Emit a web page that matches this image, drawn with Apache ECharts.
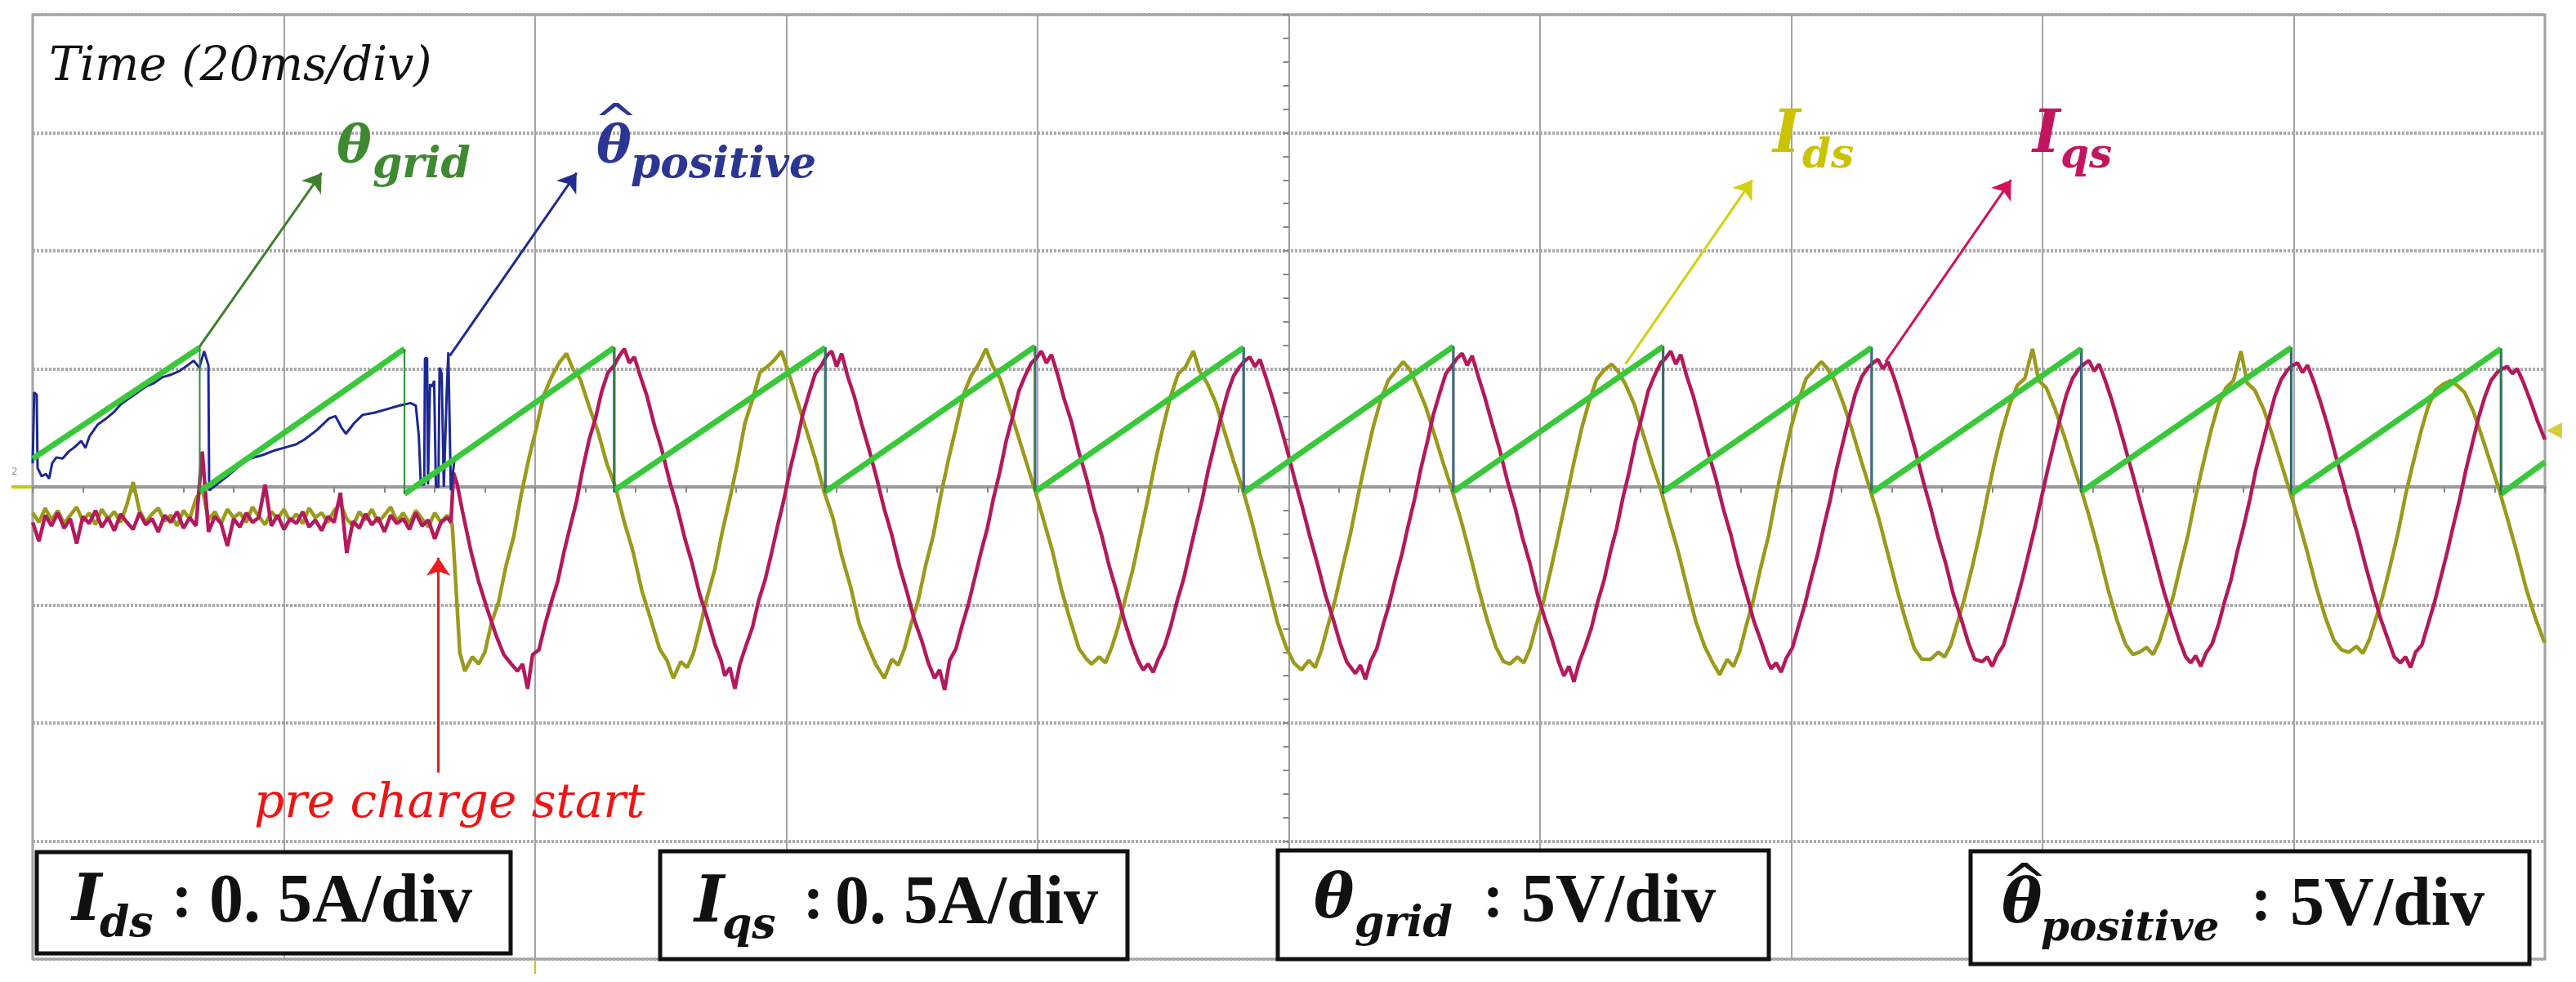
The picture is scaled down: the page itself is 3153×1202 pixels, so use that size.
<!DOCTYPE html>
<html><head><meta charset="utf-8">
<script src="https://cdn.jsdelivr.net/npm/echarts@6/dist/echarts.min.js"></script>
<style>html,body{margin:0;padding:0;background:#fff}#c{width:3153px;height:1202px}</style>
</head><body><div id="c"></div>
<script>
// ---- time base (ms) of the pre-charge samples ----
const preT = [0,0.5,1,1.5,2,2.5,3,3.5,4,4.5,5,5.5,6,6.5,7,7.5,8,8.5,9,9.5,10,10.5,11,11.5,12,12.5,13,13.5,14,14.5,15,15.5,16,16.5,17,17.5,18,18.5,19,19.5,20,20.5,21,21.5,22,22.5,23,23.5,24,24.5,25,25.5,26,26.5,27,27.5,28,28.5,29,29.5,30,30.5,31,31.5,32,32.5,33];
// Ids / Iqs (divisions) before pre-charge
const idsPreV = [-0.22,-0.30,-0.18,-0.28,-0.20,-0.31,-0.24,-0.17,-0.29,-0.22,-0.32,-0.19,-0.27,-0.21,-0.30,-0.15,0.04,-0.20,-0.30,-0.23,-0.18,-0.29,-0.24,-0.33,-0.20,-0.27,-0.10,-0.01,-0.28,-0.21,-0.31,-0.19,-0.26,-0.22,-0.30,-0.17,-0.25,-0.32,-0.21,-0.27,-0.19,-0.29,-0.23,-0.31,-0.18,-0.26,-0.22,-0.30,-0.20,-0.14,-0.27,-0.33,-0.21,-0.28,-0.19,-0.30,-0.24,-0.17,-0.29,-0.22,-0.31,-0.20,-0.27,-0.34,-0.22,-0.30,-0.24];
const iqsPreV = [-0.30,-0.46,-0.24,-0.33,-0.22,-0.35,-0.27,-0.48,-0.25,-0.31,-0.20,-0.34,-0.26,-0.37,-0.23,-0.30,-0.36,-0.22,-0.32,-0.27,-0.38,-0.24,-0.30,-0.21,-0.35,-0.26,-0.33,0.30,-0.38,-0.25,-0.31,-0.50,-0.27,-0.34,-0.22,-0.30,-0.26,0.02,-0.33,-0.24,-0.36,-0.27,-0.31,-0.21,-0.34,-0.28,-0.37,-0.25,-0.30,-0.05,-0.56,-0.29,-0.35,-0.23,-0.32,-0.26,-0.38,-0.24,-0.31,-0.27,-0.36,-0.22,-0.33,-0.28,-0.44,-0.30,-0.26];
// Ids after pre-charge start [ms, div]
const idsPost = [[33.4,-0.32],[33.7,-0.85],[34.0,-1.40],
[34.4,-1.56],[35.0,-1.44],[35.5,-1.50],[36.0,-1.40],[36.5,-1.16],[37.1,-0.97],[37.7,-0.66],[38.3,-0.42],[38.9,-0.06],[39.5,0.24],[40.1,0.50],[40.7,0.78],[41.3,0.93],[41.9,1.05],[42.5,1.13],[43.0,1.00],[43.6,0.91],[44.3,0.68],[45.0,0.47],[45.7,0.20],[46.4,0.00],[47.1,-0.30],[47.8,-0.55],[48.5,-0.88],[49.2,-1.12],[49.9,-1.37],[50.5,-1.47],
[51.0,-1.62],[51.6,-1.48],[52.1,-1.53],[52.6,-1.41],[53.1,-1.20],[53.7,-0.93],[54.3,-0.70],[54.9,-0.38],[55.5,-0.10],[56.1,0.20],[56.7,0.54],[57.3,0.74],[57.9,0.97],[58.5,1.02],[59.1,1.08],[59.6,1.15],[60.2,0.96],[60.9,0.72],[61.6,0.48],[62.3,0.24],[63.0,-0.04],[63.7,-0.26],[64.4,-0.58],[65.1,-0.84],[65.8,-1.16],[66.5,-1.35],[67.1,-1.50],
[67.8,-1.62],[68.4,-1.46],[68.9,-1.51],[69.4,-1.37],[69.9,-1.17],[70.5,-0.96],[71.1,-0.66],[71.7,-0.41],[72.3,-0.07],[72.9,0.23],[73.5,0.50],[74.1,0.78],[74.7,0.94],[75.3,1.04],[75.9,1.17],[76.4,1.03],[77.0,0.92],[77.7,0.69],[78.4,0.45],[79.1,0.21],[79.8,-0.03],[80.5,-0.29],[81.2,-0.55],[81.9,-0.87],[82.6,-1.13],[83.3,-1.37],[83.9,-1.46],
[84.3,-1.50],[84.9,-1.44],[85.4,-1.49],[85.9,-1.36],[86.4,-1.19],[87.0,-0.94],[87.6,-0.69],[88.2,-0.39],[88.8,-0.09],[89.4,0.23],[90.0,0.51],[90.6,0.77],[91.2,0.96],[91.8,1.02],[92.4,1.15],[92.9,0.98],[93.5,0.88],[94.2,0.71],[94.9,0.46],[95.6,0.22],[96.3,-0.01],[97.0,-0.27],[97.7,-0.57],[98.4,-0.85],[99.1,-1.15],[99.8,-1.36],[100.4,-1.49],
[101.0,-1.55],[101.6,-1.47],[102.1,-1.53],[102.6,-1.38],[103.1,-1.18],[103.7,-0.95],[104.3,-0.67],[104.9,-0.40],[105.5,-0.08],[106.1,0.22],[106.7,0.50],[107.3,0.73],[107.9,0.90],[108.5,0.98],[109.1,1.06],[109.6,1.00],[110.2,0.86],[110.9,0.68],[111.6,0.44],[112.3,0.20],[113.0,-0.03],[113.7,-0.28],[114.4,-0.56],[115.1,-0.86],[115.8,-1.13],[116.5,-1.36],[117.1,-1.48],
[117.6,-1.50],[118.2,-1.44],[118.7,-1.49],[119.2,-1.37],[119.7,-1.17],[120.3,-0.96],[120.9,-0.68],[121.5,-0.39],[122.1,-0.09],[122.7,0.21],[123.3,0.49],[123.9,0.72],[124.5,0.91],[125.1,0.99],[125.7,1.04],[126.2,0.98],[126.8,0.87],[127.5,0.70],[128.2,0.45],[128.9,0.21],[129.6,-0.02],[130.3,-0.29],[131.0,-0.55],[131.7,-0.85],[132.4,-1.14],[133.1,-1.35],[133.7,-1.48],
[134.3,-1.59],[134.9,-1.46],[135.4,-1.52],[135.9,-1.39],[136.4,-1.18],[137.0,-0.95],[137.6,-0.67],[138.2,-0.41],[138.8,-0.07],[139.4,0.23],[140.0,0.51],[140.6,0.74],[141.2,0.92],[141.8,0.99],[142.4,1.06],[142.9,1.00],[143.5,0.89],[144.2,0.69],[144.9,0.46],[145.6,0.21],[146.3,-0.03],[147.0,-0.28],[147.7,-0.57],[148.4,-0.86],[149.1,-1.13],[149.8,-1.37],[150.4,-1.46],
[151.1,-1.46],[151.7,-1.40],[152.2,-1.44],[152.7,-1.34],[153.2,-1.16],[153.8,-0.94],[154.4,-0.68],[155.0,-0.40],[155.6,-0.08],[156.2,0.22],[156.8,0.48],[157.4,0.70],[158.0,0.86],[158.6,0.92],[159.2,1.17],[159.7,0.90],[160.3,0.84],[161.0,0.66],[161.7,0.44],[162.4,0.20],[163.1,-0.03],[163.8,-0.28],[164.5,-0.56],[165.2,-0.86],[165.9,-1.12],[166.6,-1.33],[167.2,-1.42],
[167.7,-1.40],[168.3,-1.36],[168.8,-1.42],[169.3,-1.31],[169.8,-1.14],[170.4,-0.93],[171.0,-0.66],[171.6,-0.40],[172.2,-0.08],[172.8,0.20],[173.4,0.47],[174.0,0.70],[174.6,0.84],[175.2,0.90],[175.8,1.15],[176.3,0.88],[176.9,0.82],[177.6,0.66],[178.3,0.44],[179.0,0.20],[179.7,-0.04],[180.4,-0.29],[181.1,-0.56],[181.8,-0.85],[182.5,-1.10],[183.2,-1.30],[183.8,-1.38],
[184.4,-1.40],[185.0,-1.35],[185.5,-1.41],[186.0,-1.30],[186.5,-1.13],[187.1,-0.92],[187.7,-0.66],[188.3,-0.39],[188.9,-0.07],[189.5,0.20],[190.1,0.46],[190.7,0.68],[191.3,0.82],[191.9,0.87],[192.5,0.90],[193.0,0.86],[193.6,0.80],[194.3,0.64],[195.0,0.42],[195.7,0.19],[196.4,-0.04],[197.1,-0.30],[197.8,-0.57],[198.5,-0.86],[199.2,-1.10],[199.9,-1.30],[200.0,-1.32]];
// Iqs after pre-charge start [ms, div]
const iqsPost = [[33.3,-0.30],[33.5,0.12],[33.8,0.02],[34.2,-0.20],[34.9,-0.55],[35.5,-0.80],[36.2,-1.04],[36.9,-1.26],[37.5,-1.42],[38.1,-1.50],
[38.6,-1.56],[39.0,-1.50],[39.4,-1.71],[39.8,-1.42],[40.3,-1.38],[40.8,-1.16],[41.3,-0.97],[41.8,-0.80],[42.3,-0.55],[42.8,-0.33],[43.3,-0.12],[43.8,0.16],[44.3,0.40],[44.8,0.58],[45.3,0.81],[45.8,0.97],[46.3,1.03],[46.7,1.11],[47.1,1.17],[47.5,1.05],[47.9,1.10],[48.4,0.93],[48.9,0.77],[49.5,0.52],[50.1,0.31],[50.7,0.05],[51.3,-0.17],[51.9,-0.43],[52.5,-0.65],[53.1,-0.91],[53.7,-1.11],[54.3,-1.33],[54.8,-1.47],
[55.1,-1.60],[55.5,-1.53],[55.9,-1.71],[56.3,-1.50],[56.8,-1.34],[57.3,-1.19],[57.8,-0.96],[58.3,-0.79],[58.8,-0.57],[59.3,-0.33],[59.8,-0.11],[60.3,0.15],[60.8,0.37],[61.3,0.61],[61.8,0.79],[62.3,0.96],[62.8,1.03],[63.2,1.11],[63.6,1.15],[64.0,1.02],[64.4,1.13],[64.9,0.93],[65.4,0.77],[66.0,0.53],[66.6,0.31],[67.2,0.07],[67.8,-0.19],[68.4,-0.41],[69.0,-0.67],[69.6,-0.89],[70.2,-1.13],[70.8,-1.31],[71.3,-1.49],
[71.8,-1.62],[72.2,-1.55],[72.6,-1.72],[73.0,-1.47],[73.5,-1.37],[74.0,-1.17],[74.5,-0.99],[75.0,-0.77],[75.5,-0.55],[76.0,-0.35],[76.5,-0.09],[77.0,0.13],[77.5,0.39],[78.0,0.59],[78.5,0.81],[79.0,0.94],[79.5,1.05],[79.9,1.09],[80.3,1.15],[80.7,1.05],[81.1,1.12],[81.6,0.95],[82.1,0.75],[82.7,0.55],[83.3,0.29],[83.9,0.07],[84.5,-0.19],[85.1,-0.41],[85.7,-0.67],[86.3,-0.89],[86.9,-1.13],[87.5,-1.33],[88.0,-1.47],
[88.4,-1.55],[88.8,-1.50],[89.2,-1.57],[89.6,-1.46],[90.1,-1.35],[90.6,-1.18],[91.1,-0.97],[91.6,-0.79],[92.1,-0.56],[92.6,-0.33],[93.1,-0.11],[93.6,0.15],[94.1,0.37],[94.6,0.59],[95.1,0.79],[95.6,0.94],[96.1,1.02],[96.5,1.07],[96.9,1.10],[97.3,1.02],[97.7,1.08],[98.2,0.92],[98.7,0.75],[99.3,0.53],[99.9,0.30],[100.5,0.05],[101.1,-0.18],[101.7,-0.43],[102.3,-0.66],[102.9,-0.91],[103.5,-1.11],[104.1,-1.33],[104.6,-1.48],
[105.3,-1.58],[105.7,-1.51],[106.1,-1.63],[106.5,-1.48],[107.0,-1.37],[107.5,-1.17],[108.0,-0.99],[108.5,-0.77],[109.0,-0.57],[109.5,-0.33],[110.0,-0.11],[110.5,0.15],[111.0,0.37],[111.5,0.61],[112.0,0.79],[112.5,0.96],[113.0,1.03],[113.4,1.09],[113.8,1.13],[114.2,1.03],[114.6,1.11],[115.1,0.93],[115.6,0.76],[116.2,0.53],[116.8,0.31],[117.4,0.05],[118.0,-0.17],[118.6,-0.43],[119.2,-0.65],[119.8,-0.91],[120.4,-1.12],[121.0,-1.31],[121.5,-1.49],
[121.9,-1.60],[122.3,-1.52],[122.7,-1.65],[123.1,-1.49],[123.6,-1.35],[124.1,-1.19],[124.6,-0.97],[125.1,-0.79],[125.6,-0.55],[126.1,-0.35],[126.6,-0.09],[127.1,0.13],[127.6,0.39],[128.1,0.59],[128.6,0.81],[129.1,0.94],[129.6,1.05],[130.0,1.09],[130.4,1.15],[130.8,1.04],[131.2,1.12],[131.7,0.93],[132.2,0.77],[132.8,0.53],[133.4,0.29],[134.0,0.07],[134.6,-0.19],[135.2,-0.41],[135.8,-0.67],[136.4,-0.89],[137.0,-1.13],[137.6,-1.31],[138.1,-1.47],
[138.4,-1.54],[138.8,-1.49],[139.2,-1.57],[139.6,-1.45],[140.1,-1.36],[140.6,-1.17],[141.1,-0.99],[141.6,-0.77],[142.1,-0.57],[142.6,-0.33],[143.1,-0.11],[143.6,0.15],[144.1,0.37],[144.6,0.59],[145.1,0.79],[145.6,0.93],[146.1,1.01],[146.5,1.05],[146.9,1.08],[147.3,1.00],[147.7,1.06],[148.2,0.92],[148.7,0.75],[149.3,0.53],[149.9,0.30],[150.5,0.05],[151.1,-0.18],[151.7,-0.43],[152.3,-0.65],[152.9,-0.91],[153.5,-1.11],[154.1,-1.32],[154.6,-1.46],
[155.2,-1.48],[155.6,-1.44],[156.0,-1.52],[156.4,-1.42],[156.9,-1.34],[157.4,-1.16],[157.9,-0.98],[158.4,-0.78],[158.9,-0.56],[159.4,-0.34],[159.9,-0.10],[160.4,0.14],[160.9,0.36],[161.4,0.58],[161.9,0.78],[162.4,0.92],[162.9,1.00],[163.3,1.04],[163.7,1.07],[164.1,0.98],[164.5,1.04],[165.0,0.90],[165.5,0.74],[166.1,0.52],[166.7,0.29],[167.3,0.06],[167.9,-0.18],[168.5,-0.42],[169.1,-0.66],[169.7,-0.90],[170.3,-1.10],[170.9,-1.30],[171.4,-1.44],
[171.8,-1.49],[172.2,-1.43],[172.6,-1.52],[173.0,-1.41],[173.5,-1.33],[174.0,-1.17],[174.5,-0.97],[175.0,-0.79],[175.5,-0.55],[176.0,-0.34],[176.5,-0.11],[177.0,0.15],[177.5,0.36],[178.0,0.57],[178.5,0.77],[179.0,0.91],[179.5,0.99],[179.9,1.03],[180.3,1.05],[180.7,0.97],[181.1,1.03],[181.6,0.89],[182.1,0.73],[182.7,0.52],[183.3,0.28],[183.9,0.05],[184.5,-0.19],[185.1,-0.41],[185.7,-0.66],[186.3,-0.89],[186.9,-1.11],[187.5,-1.29],[188.0,-1.44],
[188.5,-1.49],[188.9,-1.44],[189.3,-1.53],[189.7,-1.40],[190.2,-1.34],[190.7,-1.16],[191.2,-0.98],[191.7,-0.77],[192.2,-0.56],[192.7,-0.33],[193.2,-0.11],[193.7,0.14],[194.2,0.36],[194.7,0.58],[195.2,0.76],[195.7,0.90],[196.2,0.97],[196.6,1.00],[197.0,1.02],[197.4,0.96],[197.8,1.00],[198.3,0.88],[198.8,0.74],[199.4,0.56],[200.0,0.40]];
// theta_grid sawtooth: reset instants (ms), peak values and ramp start values (div)
const gridResetT = [13.3,29.6,46.3,63.1,79.8,96.4,113.1,129.8,146.4,163.1,179.8,196.5];
const gridPeakV  = [1.18,1.17,1.18,1.18,1.19,1.18,1.19,1.19,1.18,1.17,1.18,1.17];
const gridStartV = [0.24,-0.04,-0.06,-0.03,-0.04,-0.04,-0.05,-0.04,-0.04,-0.05,-0.04,-0.06,-0.06];
const gridEndV = 0.21;
// theta_positive [ms, div]
const thetaPos = [[0.0,0.20],[0.12,0.80],[0.32,0.78],[0.39,0.16],[0.72,0.09],[1.05,0.11],[1.31,0.07],[1.55,0.20],[1.88,0.25],[2.38,0.24],[2.87,0.30],[3.37,0.34],[3.87,0.39],[4.20,0.33],[4.53,0.43],[5.19,0.53],[5.86,0.58],[6.52,0.64],[7.02,0.70],[7.68,0.75],[8.35,0.80],[9.01,0.85],[9.67,0.88],[10.34,0.93],[11.00,0.95],[11.66,0.98],[12.33,1.03],[12.82,1.07],[13.26,1.01],[13.65,1.15],[13.99,1.03],[14.05,-0.03],[14.65,0.02],[15.48,0.09],[16.47,0.18],[17.30,0.24],[18.30,0.27],[19.29,0.31],[20.29,0.34],[20.95,0.36],[21.61,0.40],[22.61,0.48],[23.60,0.58],[24.10,0.60],[24.60,0.50],[24.93,0.45],[25.59,0.54],[26.26,0.61],[27.25,0.63],[28.25,0.66],[29.24,0.69],[30.07,0.71],[30.50,0.69],[30.74,0.43],[30.90,0.02],[31.17,0.02],[31.23,1.09],[31.40,1.09],[31.47,0.02],[31.63,0.87],[31.83,0.85],[31.96,0.90],[32.10,0.00],[32.30,0.00],[32.39,1.01],[32.56,0.96],[32.73,0.00],[32.96,0.80],[33.09,1.14],[33.22,1.13],[33.29,-0.03],
[33.6,0.25],[46.3,1.18],[46.3,-0.04],[63.1,1.18],[63.1,-0.04],[79.8,1.19],[79.8,-0.03],[96.4,1.18],[96.4,-0.04],[113.1,1.19],[113.1,-0.04],[129.8,1.19],[129.8,-0.05],[146.4,1.18],[146.4,-0.04],[163.1,1.17],[163.1,-0.04],[179.8,1.18],[179.8,-0.05],[196.5,1.17],[196.5,-0.06],[200,0.20]];

// ---- build series data ----
const idsData = preT.map((t,i)=>[t, idsPreV[i]]).concat(idsPost);
const iqsData = preT.map((t,i)=>[t, iqsPreV[i]]).concat(iqsPost);
const rampData = [], dropData = [];
for (let i = 0; i < gridStartV.length; i++) {
  const s = i === 0 ? [0, gridStartV[0]] : [gridResetT[i-1], gridStartV[i]];
  const e = i < gridResetT.length ? [gridResetT[i], gridPeakV[i]] : [200, gridEndV];
  rampData.push(s, e, [e[0], '-']);
  if (i < gridResetT.length) dropData.push([gridResetT[i], gridPeakV[i]], [gridResetT[i], gridStartV[i+1]], [gridResetT[i], '-']);
}

const chart = echarts.init(document.getElementById('c'), null, {renderer:'canvas'});
const SER = '"DejaVu Serif", serif';
const LS = '"Liberation Serif", serif';
function t(x,y,text,font,fill,align){return {type:'text',x:x,y:y,z:100,style:{text:text,font:font,fill:fill,align:align||'left',verticalAlign:'middle'}};}
function hat(x,y,size,fill){return {type:'text',x:x,y:y,z:101,scaleX:1.2,style:{text:'^',font:size+'px "DejaVu Sans"',fill:fill,align:'center',verticalAlign:'middle'}};}
function box(x,y,w,h){return {type:'rect',z:99,shape:{x:x,y:y,width:w,height:h},style:{fill:'#fff',stroke:'#111',lineWidth:5}};}
function arrow(a,b,color){return [{coord:a,lineStyle:{color:color,width:3,type:'solid'}},{coord:b}];}

chart.setOption({
  animation:false,
  backgroundColor:'#fff',
  grid:{left:40,top:18,width:3075,height:1156,show:true,borderColor:'#9a9a9a',borderWidth:3,backgroundColor:'transparent'},
  xAxis:[{
    type:'value',min:0,max:200,interval:20,
    axisLine:{show:true,onZero:true,lineStyle:{color:'#9a9a9a',width:4}},
    axisTick:{show:true,length:7,lineStyle:{color:'#888',width:2}},
    minorTick:{show:true,splitNumber:5,length:7,lineStyle:{color:'#888',width:2}},
    axisLabel:{show:false},
    splitLine:{show:true,lineStyle:{color:'#a4a4a4',width:2}}
  },{
    type:'value',min:-100,max:100,
    axisLine:{show:false},axisTick:{show:false},axisLabel:{show:false},splitLine:{show:false}
  }],
  yAxis:{
    type:'value',min:-4,max:4,interval:1,
    axisLine:{show:true,onZero:true,onZeroAxisIndex:1,lineStyle:{color:'#9a9a9a',width:2}},
    axisTick:{show:true,length:7,lineStyle:{color:'#888',width:2}},
    minorTick:{show:true,splitNumber:5,length:7,lineStyle:{color:'#888',width:2}},
    axisLabel:{show:false},
    splitLine:{show:true,lineStyle:{color:'#ababab',width:4,type:[3,2]}}
  },
  series:[
    {name:'Ids',type:'line',data:idsData,showSymbol:false,z:3,lineStyle:{color:'#9a9a1c',width:4.5}},
    {name:'Iqs',type:'line',data:iqsData,showSymbol:false,z:4,lineStyle:{color:'#b3195c',width:4.5}},
    {name:'θpositive',type:'line',data:thetaPos,showSymbol:false,z:5,lineStyle:{color:'#1c2891',width:3}},
    {name:'θgrid',type:'line',data:rampData,showSymbol:false,z:6,connectNulls:false,lineStyle:{color:'#38c83a',width:7}},
    {name:'θgrid reset',type:'line',data:dropData,showSymbol:false,z:6,connectNulls:false,lineStyle:{color:'#2f8a3a',width:2}},
    {name:'arrows',type:'line',data:[],z:10,markLine:{silent:true,animation:false,symbol:['none','arrow'],symbolSize:22,label:{show:false},
      data:[
        arrow([13.1,1.16],[23.0,2.66],'#3f7f2f'),
        arrow([33.2,1.11],[43.3,2.66],'#1f2b8f'),
        arrow([126.8,1.04],[136.9,2.60],'#d2d010'),
        arrow([147.5,1.06],[157.5,2.60],'#d3105c'),
        arrow([32.3,-2.42],[32.3,-0.60],'#ee1c1c')
      ]}}
  ],
  graphic:[
    t(60,83,'Time (20ms/div)','italic 57px '+SER,'#111'),
    t(412,181,'θ','bold italic 64px '+SER,'#3f8a30'),
    t(456,203,'grid','bold italic 52px '+SER,'#3f8a30'),
    t(730,181,'θ','bold italic 64px '+SER,'#2b3594'),
    hat(754,152,55,'#2b3594'),
    t(772,203,'positive','bold italic 52px '+SER,'#2b3594'),
    t(2170,167,'I','bold italic 72px '+SER,'#c9c300'),
    t(2206,192,'ds','bold italic 50px '+SER,'#c9c300'),
    t(2488,167,'I','bold italic 72px '+SER,'#c3155f'),
    t(2522,192,'qs','bold italic 50px '+SER,'#c3155f'),
    t(311,985,'pre charge start','italic 58px '+SER,'#ee1515'),
    box(45,1043,580,124),
    t(88,1106,'I','bold italic 78px '+SER,'#111'),
    t(122,1132,'ds','bold italic 52px '+SER,'#111'),
    t(210,1102,':','bold 76px '+LS,'#111'),
    t(256,1106,'0. 5A/div','bold 84px '+LS,'#111'),
    box(808,1042,572,132),
    t(850,1108,'I','bold italic 78px '+SER,'#111'),
    t(884,1134,'qs','bold italic 52px '+SER,'#111'),
    t(983,1104,':','bold 76px '+LS,'#111'),
    t(1022,1108,'0. 5A/div','bold 84px '+LS,'#111'),
    box(1564,1041,601,133),
    t(1608,1104,'θ','bold italic 74px '+SER,'#111'),
    t(1658,1132,'grid','bold italic 52px '+SER,'#111'),
    t(1815,1102,':','bold 76px '+LS,'#111'),
    t(1862,1106,'5V/div','bold 84px '+LS,'#111'),
    box(2412,1042,684,138),
    t(2450,1110,'θ','bold italic 74px '+SER,'#111'),
    hat(2478,1084,58,'#111'),
    t(2498,1138,'positive','bold italic 50px '+SER,'#111'),
    t(2755,1106,':','bold 76px '+LS,'#111'),
    t(2803,1110,'5V/div','bold 84px '+LS,'#111'),
    {type:'line',z:50,shape:{x1:14,y1:596,x2:38,y2:596},style:{stroke:'#c8c800',lineWidth:4}},
    t(14,578,'2','12px "DejaVu Sans"','#999'),
    {type:'polygon',z:50,shape:{points:[[3117,527],[3136,517],[3136,537]]},style:{fill:'#d6cf3a'}},
    {type:'line',z:50,shape:{x1:655,y1:1176,x2:655,y2:1192},style:{stroke:'#c8c800',lineWidth:2}}
  ]
});
</script></body></html>
